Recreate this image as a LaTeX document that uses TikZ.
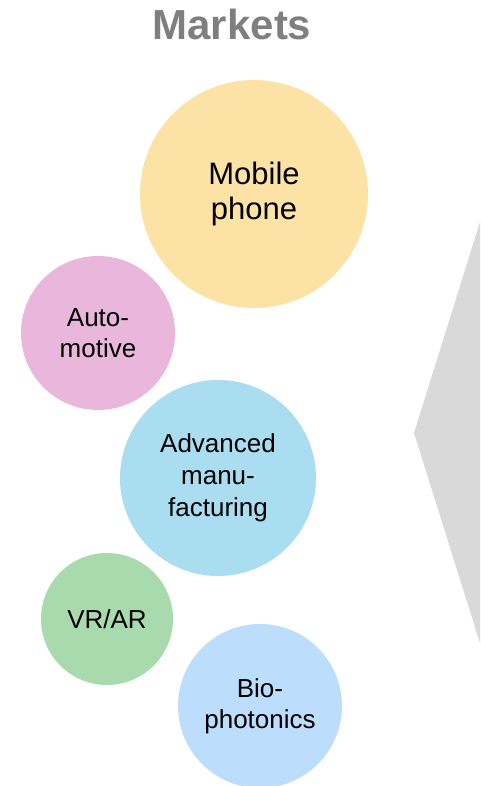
\documentclass[tikz,border=0pt]{standalone}
\usepackage{fontspec}
\setmainfont{Liberation Sans}
\usepackage{xcolor}
\definecolor{mobilecol}{HTML}{FDE2A6}
\definecolor{autocol}{HTML}{E9B7DB}
\definecolor{manucol}{HTML}{A9DDEF}
\definecolor{vrcol}{HTML}{A9DAAE}
\definecolor{biocol}{HTML}{BDDDFC}
\definecolor{arrowgrey}{HTML}{D9D9D9}
\definecolor{titlegrey}{HTML}{7F7F7F}
\tikzset{market/.style={circle,inner sep=0pt,align=center,text=black}}

\begin{document}
\begin{tikzpicture}[x=1pt,y=-1pt]
\useasboundingbox (0,0) rectangle (480,786);
\fill[arrowgrey] (480,222) -- (414,433) -- (480,643) -- cycle;
\node[anchor=base,text=titlegrey,font=\bfseries\fontsize{42}{50}\selectfont](title) at (232,40) {Markets};
\draw (254,194) node[market,minimum size=228pt,fill=mobilecol,font=\fontsize{31}{35}\selectfont](mobile) {Mobile\\phone};
\draw (98,333) node[market,minimum size=154pt,fill=autocol,font=\fontsize{26}{31}\selectfont](auto) {Auto-\\motive};
\draw (218,478) node[market,minimum size=196pt,fill=manucol,font=\fontsize{26}{32}\selectfont](manu) {Advanced\\manu-\\facturing};
\draw (107,619) node[market,minimum size=132pt,fill=vrcol,font=\fontsize{26}{31}\selectfont](vrar) {VR/AR};
\draw (260,706) node[market,minimum size=164pt,fill=biocol,font=\fontsize{26}{31}\selectfont](bio) {Bio-\\photonics};
\end{tikzpicture}
\end{document}
